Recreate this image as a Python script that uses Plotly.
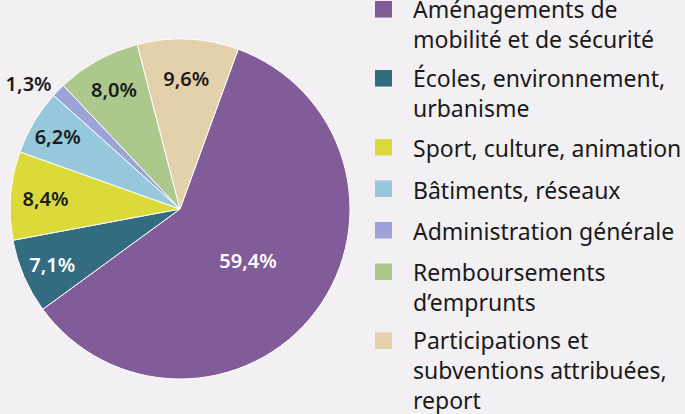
import plotly.graph_objects as go

categories = [
    "Aménagements de<br>mobilité et de sécurité",
    "Écoles, environnement,<br>urbanisme",
    "Sport, culture, animation",
    "Bâtiments, réseaux",
    "Administration générale",
    "Remboursements<br>d’emprunts",
    "Participations et<br>subventions attribuées,<br>report",
]
values = [59.4, 7.1, 8.4, 6.2, 1.3, 8.0, 9.6]
colors = ["#825c98", "#336b80", "#dbda3a", "#95c8da", "#9ca4d7", "#acc88c", "#e4d0aa"]
text_colors = ["white", "white", "#1a1a1a", "#1a1a1a", "#1a1a1a", "#1a1a1a", "#1a1a1a"]
text_positions = ["inside", "inside", "inside", "inside", "outside", "inside", "inside"]

W, H = 685, 414
BG = "#f2f0f3"
FONT = "Noto Sans"
LEG_SIZE = 23
LINE_H = 27.5
GAP = 14

labels = [f"{v:.1f}%".replace(".", ",") for v in values]

fig = go.Figure()
fig.add_trace(go.Pie(
    labels=[c.replace("<br>", " ") for c in categories],
    values=values,
    text=labels,
    textinfo="text",
    textposition=text_positions,
    insidetextorientation="horizontal",
    sort=False,
    direction="clockwise",
    rotation=20,
    marker=dict(colors=colors, line=dict(color="white", width=1)),
    textfont=dict(family=FONT, size=20, color=text_colors, weight=600),
    outsidetextfont=dict(family=FONT, size=20, color="#1a1a1a", weight=600),
    domain=dict(x=[10 / W, 350 / W], y=[(H - 379) / H, (H - 39) / H]),
    showlegend=False,
    hoverinfo="label+percent",
))

# custom legend (squares + text)
shapes = []
annotations = []
top = 1
for cat, col in zip(categories, colors):
    n = cat.count("<br>") + 1
    shapes.append(dict(type="rect", xref="paper", yref="paper",
                       x0=375 / W, x1=392 / W, y0=1 - (top + 16.5) / H, y1=1 - top / H,
                       fillcolor=col, line=dict(width=0)))
    ytop = top - 8.6 - (n - 1) * 1.2
    annotations.append(dict(text=cat, xref="paper", yref="paper", x=411 / W, y=1 - ytop / H,
                            xanchor="left", yanchor="top", align="left", showarrow=False,
                            font=dict(family=FONT, size=LEG_SIZE, color="#1a1a1a")))
    top += n * LINE_H + GAP

fig.update_layout(
    width=W, height=H,
    margin=dict(l=0, r=0, t=0, b=0),
    paper_bgcolor=BG, plot_bgcolor=BG,
    shapes=shapes, annotations=annotations,
    font=dict(family=FONT),
)
fig.write_html(
    "out.html",
    config={"displayModeBar": False},
    post_script="document.body.style.margin='0';document.body.style.overflow='hidden';",
)
